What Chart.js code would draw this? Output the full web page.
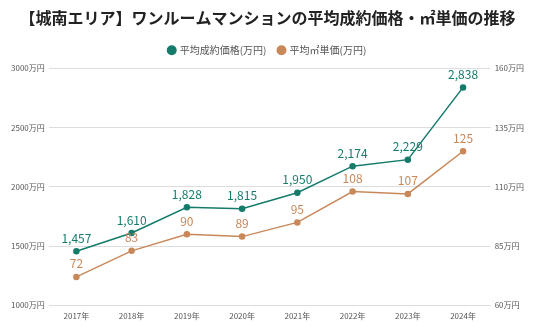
<!DOCTYPE html>
<html>
<head>
<meta charset="utf-8">
<script src="https://cdn.jsdelivr.net/npm/chart.js@4/dist/chart.umd.min.js"></script>
<style>
html,body{margin:0;padding:0;background:#fff;}
#wrap{width:536px;height:332px;}
</style>
</head>
<body>
<div id="wrap"><canvas id="c" width="536" height="332"></canvas></div>
<script>
const years = ['2017年','2018年','2019年','2020年','2021年','2022年','2023年','2024年'];
const avgPrice = [1457, 1610, 1828, 1815, 1950, 2174, 2229, 2838];
const unitPrice = [72, 83, 90, 89, 95, 108, 107, 125];
const leftTicks = [1000, 1500, 2000, 2500, 3000];
const rightTicks = [60, 85, 110, 135, 160];

const GREEN = '#157b6b';
const ORANGE = '#c8885a';
const FONT = '"Noto Sans CJK JP", "Noto Sans", sans-serif';

const labelPlugin = {
  id: 'valueLabels',
  afterDatasetsDraw(chart) {
    const ctx = chart.ctx;
    chart.data.datasets.forEach((ds, i) => {
      const meta = chart.getDatasetMeta(i);
      ctx.save();
      ctx.font = '12px ' + FONT;
      ctx.fillStyle = ds.borderColor;
      ctx.textAlign = 'center';
      ctx.textBaseline = 'bottom';
      meta.data.forEach((pt, j) => {
        ctx.fillText(ds.data[j].toLocaleString('en-US'), pt.x, pt.y - 7);
      });
      ctx.restore();
    });
  }
};

const legendGap = {
  id: 'legendGap',
  beforeInit(chart) {
    if (chart.legend) {
      const orig = chart.legend.fit;
      chart.legend.fit = function () { orig.call(this); this.height += 3; };
    }
  }
};

new Chart(document.getElementById('c'), {
  type: 'line',
  data: {
    labels: years,
    datasets: [
      {
        label: '平均成約価格(万円)',
        data: avgPrice,
        borderColor: GREEN,
        backgroundColor: GREEN,
        borderWidth: 1.5,
        pointRadius: 2.5,
        pointHoverRadius: 2.5,
        tension: 0,
        yAxisID: 'y'
      },
      {
        label: '平均㎡単価(万円)',
        data: unitPrice,
        borderColor: ORANGE,
        backgroundColor: ORANGE,
        borderWidth: 1.5,
        pointRadius: 2.5,
        pointHoverRadius: 2.5,
        tension: 0,
        yAxisID: 'y1'
      }
    ]
  },
  options: {
    responsive: false,
    animation: false,
    devicePixelRatio: 1,
    layout: { padding: { left: 7, right: 8, top: 4, bottom: 5 } },
    plugins: {
      title: {
        display: true,
        text: '【城南エリア】ワンルームマンションの平均成約価格・㎡単価の推移',
        color: '#222',
        font: { family: FONT, size: 16, weight: 'bold' },
        padding: { top: 4, bottom: 6 }
      },
      legend: {
        display: true,
        labels: {
          usePointStyle: true,
          pointStyle: 'circle',
          boxWidth: 6,
          boxHeight: 6,
          color: '#555',
          font: { family: FONT, size: 10 },
          padding: 12
        }
      },
      tooltip: { enabled: false }
    },
    scales: {
      x: {
        offset: true,
        grid: { display: false, drawTicks: false },
        border: { display: false },
        ticks: { color: '#555', font: { family: FONT, size: 8 }, padding: 6 }
      },
      y: {
        position: 'left',
        min: 1000,
        max: 3000,
        afterBuildTicks(axis) { axis.ticks = leftTicks.map(v => ({ value: v })); },
        grid: { color: '#dddddd', drawTicks: false, lineWidth: 1 },
        border: { display: false },
        ticks: {
          color: '#555',
          font: { family: FONT, size: 8 },
          padding: 4,
          callback: v => v + '万円'
        }
      },
      y1: {
        position: 'right',
        min: 60,
        max: 160,
        afterBuildTicks(axis) { axis.ticks = rightTicks.map(v => ({ value: v })); },
        grid: { display: false, drawTicks: false },
        border: { display: false },
        ticks: {
          color: '#555',
          font: { family: FONT, size: 8 },
          padding: 4,
          callback: v => v + '万円'
        }
      }
    }
  },
  plugins: [labelPlugin, legendGap]
});
</script>
</body>
</html>
